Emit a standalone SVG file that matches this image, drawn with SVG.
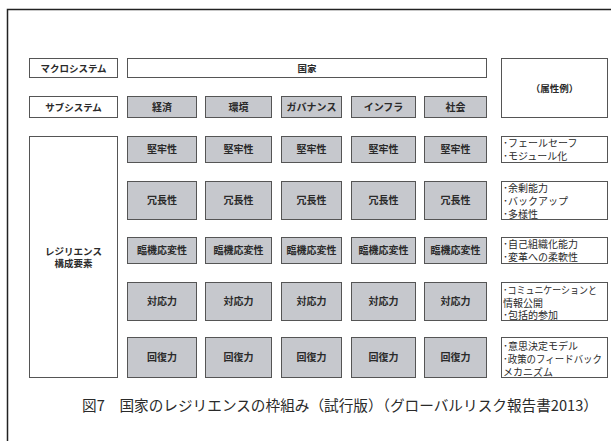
<svg xmlns="http://www.w3.org/2000/svg" width="611" height="441" viewBox="0 0 611 441">
<style>
text{font-family:"Noto Sans CJK JP","Noto Sans CJK SC",sans-serif;fill:#2a2a2a}
.w{fill:#fff;stroke:#555;stroke-width:1}
.g{fill:#c6c8cd;stroke:#555;stroke-width:1}
.lb{font-size:9.5px;font-weight:bold;text-anchor:middle}
.cb{font-size:10px;font-weight:bold;text-anchor:middle}
.at{font-size:10px}
.cap{font-size:14.5px}
</style>
<rect width="611" height="441" fill="#fff"/>
<path d="M7.5,441 V9.5 H611" fill="none" stroke="#222" stroke-width="1.5"/>

<g id="macro"><rect class="w" x="29.5" y="58.5" width="88" height="19"/><text class="lb" x="73.5" y="71.5">マクロシステム</text></g>
<g id="kokka"><rect class="w" x="127.5" y="58.5" width="359" height="19"/><text class="lb" x="307" y="71.5">国家</text></g>
<g id="zokusei"><rect class="w" x="501.5" y="58.5" width="106" height="59"/><text class="lb" x="554.5" y="91.5">（属性例）</text></g>
<g id="sub"><rect class="w" x="29.5" y="96.5" width="88" height="21"/><text class="lb" x="73.5" y="110.5">サブシステム</text></g>
<g id="resil"><rect class="w" x="29.5" y="136.5" width="88" height="241"/><text class="lb" x="73.5" y="255">レジリエンス</text><text class="lb" x="73.5" y="267">構成要素</text></g>

<g id="s1"><rect class="g" x="127.5" y="96.5" width="69" height="21"/><text class="cb" x="162" y="110.5">経済</text></g>
<g id="s2"><rect class="g" x="205.5" y="96.5" width="66" height="21"/><text class="cb" x="238.5" y="110.5">環境</text></g>
<g id="s3"><rect class="g" x="281.5" y="96.5" width="60" height="21"/><text class="cb" x="311.5" y="110.5">ガバナンス</text></g>
<g id="s4"><rect class="g" x="351.5" y="96.5" width="64" height="21"/><text class="cb" x="383.5" y="110.5">インフラ</text></g>
<g id="s5"><rect class="g" x="424.5" y="96.5" width="62" height="21"/><text class="cb" x="455.5" y="110.5">社会</text></g>

<g id="r1c1"><rect class="g" x="127.5" y="136.5" width="69" height="26"/><text class="cb" x="162" y="153">堅牢性</text></g>
<g id="r1c2"><rect class="g" x="205.5" y="136.5" width="66" height="26"/><text class="cb" x="238.5" y="153">堅牢性</text></g>
<g id="r1c3"><rect class="g" x="281.5" y="136.5" width="60" height="26"/><text class="cb" x="311.5" y="153">堅牢性</text></g>
<g id="r1c4"><rect class="g" x="351.5" y="136.5" width="64" height="26"/><text class="cb" x="383.5" y="153">堅牢性</text></g>
<g id="r1c5"><rect class="g" x="424.5" y="136.5" width="62" height="26"/><text class="cb" x="455.5" y="153">堅牢性</text></g>
<g id="r1a"><rect class="w" x="501.5" y="136.5" width="106" height="26"/><text class="at" x="503" y="147">･フェールセーフ</text><text class="at" x="503" y="159.5">･モジュール化</text></g>

<g id="r2c1"><rect class="g" x="127.5" y="181.5" width="69" height="38"/><text class="cb" x="162" y="204">冗長性</text></g>
<g id="r2c2"><rect class="g" x="205.5" y="181.5" width="66" height="38"/><text class="cb" x="238.5" y="204">冗長性</text></g>
<g id="r2c3"><rect class="g" x="281.5" y="181.5" width="60" height="38"/><text class="cb" x="311.5" y="204">冗長性</text></g>
<g id="r2c4"><rect class="g" x="351.5" y="181.5" width="64" height="38"/><text class="cb" x="383.5" y="204">冗長性</text></g>
<g id="r2c5"><rect class="g" x="424.5" y="181.5" width="62" height="38"/><text class="cb" x="455.5" y="204">冗長性</text></g>
<g id="r2a"><rect class="w" x="501.5" y="181.5" width="106" height="38"/><text class="at" x="503" y="192">･余剰能力</text><text class="at" x="503" y="205">･バックアップ</text><text class="at" x="503" y="218">･多様性</text></g>

<g id="r3c1"><rect class="g" x="127.5" y="237.5" width="69" height="26"/><text class="cb" x="162" y="254">臨機応変性</text></g>
<g id="r3c2"><rect class="g" x="205.5" y="237.5" width="66" height="26"/><text class="cb" x="238.5" y="254">臨機応変性</text></g>
<g id="r3c3"><rect class="g" x="281.5" y="237.5" width="60" height="26"/><text class="cb" x="311.5" y="254">臨機応変性</text></g>
<g id="r3c4"><rect class="g" x="351.5" y="237.5" width="64" height="26"/><text class="cb" x="383.5" y="254">臨機応変性</text></g>
<g id="r3c5"><rect class="g" x="424.5" y="237.5" width="62" height="26"/><text class="cb" x="455.5" y="254">臨機応変性</text></g>
<g id="r3a"><rect class="w" x="501.5" y="237.5" width="106" height="26"/><text class="at" x="503" y="248">･自己組織化能力</text><text class="at" x="503" y="261">･変革への柔軟性</text></g>

<g id="r4c1"><rect class="g" x="127.5" y="282.5" width="69" height="38"/><text class="cb" x="162" y="305">対応力</text></g>
<g id="r4c2"><rect class="g" x="205.5" y="282.5" width="66" height="38"/><text class="cb" x="238.5" y="305">対応力</text></g>
<g id="r4c3"><rect class="g" x="281.5" y="282.5" width="60" height="38"/><text class="cb" x="311.5" y="305">対応力</text></g>
<g id="r4c4"><rect class="g" x="351.5" y="282.5" width="64" height="38"/><text class="cb" x="383.5" y="305">対応力</text></g>
<g id="r4c5"><rect class="g" x="424.5" y="282.5" width="62" height="38"/><text class="cb" x="455.5" y="305">対応力</text></g>
<g id="r4a"><rect class="w" x="501.5" y="282.5" width="106" height="38"/><text class="at" x="503" y="294" textLength="94" lengthAdjust="spacingAndGlyphs">･コミュニケーションと</text><text class="at" x="503" y="307">情報公開</text><text class="at" x="503" y="319">･包括的参加</text></g>

<g id="r5c1"><rect class="g" x="127.5" y="337.5" width="69" height="40"/><text class="cb" x="162" y="361">回復力</text></g>
<g id="r5c2"><rect class="g" x="205.5" y="337.5" width="66" height="40"/><text class="cb" x="238.5" y="361">回復力</text></g>
<g id="r5c3"><rect class="g" x="281.5" y="337.5" width="60" height="40"/><text class="cb" x="311.5" y="361">回復力</text></g>
<g id="r5c4"><rect class="g" x="351.5" y="337.5" width="64" height="40"/><text class="cb" x="383.5" y="361">回復力</text></g>
<g id="r5c5"><rect class="g" x="424.5" y="337.5" width="62" height="40"/><text class="cb" x="455.5" y="361">回復力</text></g>
<g id="r5a"><rect class="w" x="501.5" y="337.5" width="106" height="40"/><text class="at" x="503" y="350">･意思決定モデル</text><text class="at" x="503" y="363" textLength="99" lengthAdjust="spacingAndGlyphs">･政策のフィードバック</text><text class="at" x="503" y="375.5">メカニズム</text></g>

<g id="connectors"></g>
<text class="cap" x="82" y="411" textLength="516" lengthAdjust="spacingAndGlyphs">図7　国家のレジリエンスの枠組み（試行版）（グローバルリスク報告書2013）</text>
</svg>
